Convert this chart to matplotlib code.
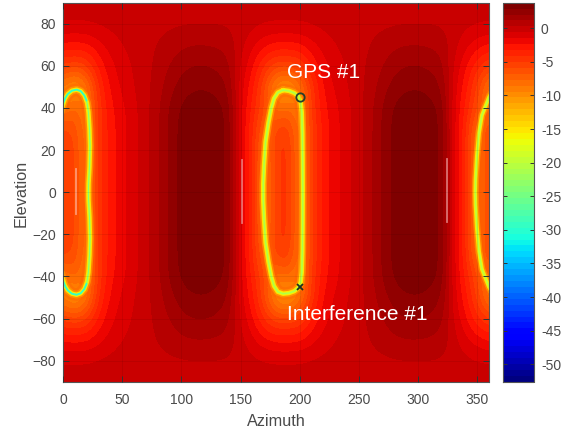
import numpy as np
import matplotlib
matplotlib.use('Agg')
import matplotlib.pyplot as plt
from matplotlib.colors import Normalize

plt.rcParams['font.family'] = ['Liberation Sans', 'DejaVu Sans']

# ---------------- data ----------------
azimuth = list(range(0, 361, 10))          # grid columns (deg)
elev_upper = [90, 80, 70, 60, 50, 40, 30, 20, 10, 0]   # rows, mirrored below 0

gain_el90 = [-0.2] * 37
gain_el80 = [-0.5, -0.5, -0.5, -0.4, -0.3, -0.2, -0.1, 0.0, 0.05, 0.1, 0.15, 0.2, 0.2, 0.2, 0.15, -0.1, -0.3, -0.45,
             -0.5, -0.5, -0.5, -0.4, -0.3, -0.2, -0.1, 0.0, 0.05, 0.1, 0.15, 0.2, 0.2, 0.2, 0.15, -0.1, -0.3, -0.45, -0.5]
gain_el70 = [-2.5, -2.6, -2.5, -1.8, -1.1, -0.6, -0.3, 0.0, 0.3, 0.65, 1.0, 1.15, 1.15, 1.05, 0.8, -0.3, -1.3, -2.2,
             -2.6, -2.6, -2.5, -1.8, -1.1, -0.6, -0.3, 0.0, 0.3, 0.65, 1.0, 1.15, 1.15, 1.05, 0.8, -0.3, -1.3, -2.0, -2.5]
gain_el60 = [-5.0, -5.5, -5.0, -3.0, -1.8, -1.0, -0.5, 0.0, 0.55, 1.2, 1.8, 2.1, 2.1, 1.9, 1.4, -0.8, -2.3, -4.3,
             -5.5, -5.5, -5.0, -3.0, -1.8, -1.0, -0.5, 0.0, 0.55, 1.2, 1.8, 2.1, 2.1, 1.9, 1.4, -0.8, -2.3, -4.0, -5.0]
gain_el50 = [-9.0, -11.0, -8.5, -4.0, -2.2, -1.3, -0.6, 0.0, 0.75, 1.7, 2.5, 2.8, 2.85, 2.6, 2.0, -1.2, -3.0, -6.0,
             -10.0, -11.0, -8.5, -4.5, -2.2, -1.3, -0.6, 0.0, 0.75, 1.7, 2.5, 2.8, 2.85, 2.6, 2.0, -1.2, -3.0, -5.5, -9.0]
gain_el40 = [-9.0, -7.0, -9.0, -4.5, -2.6, -1.7, -0.85, 0.0, 0.95, 2.2, 3.15, 3.5, 3.55, 3.3, 2.65, -1.5, -3.5, -6.0,
             -8.5, -7.5, -9.0, -4.5, -2.6, -1.7, -0.85, 0.0, 0.95, 2.2, 3.15, 3.5, 3.55, 3.3, 2.65, -1.5, -3.5, -6.0, -9.0]
gain_el30 = [-5.5, -6.0, -9.0, -4.5, -2.8, -1.8, -0.9, 0.0, 1.0, 2.3, 3.3, 3.7, 3.75, 3.5, 2.8, -1.5, -4.0, -7.5,
             -5.5, -5.0, -9.0, -5.0, -2.8, -1.8, -0.9, 0.0, 1.0, 2.3, 3.3, 3.7, 3.75, 3.5, 2.8, -1.5, -4.0, -8.5, -5.5]
gain_el20 = [-5.0, -5.5, -9.0, -4.5, -2.8, -1.8, -0.9, 0.0, 1.0, 2.3, 3.3, 3.7, 3.75, 3.5, 2.8, -1.5, -4.0, -8.5,
             -5.0, -4.5, -9.0, -5.0, -2.8, -1.8, -0.9, 0.0, 1.0, 2.3, 3.3, 3.7, 3.75, 3.5, 2.8, -1.5, -4.0, -9.0, -5.0]
gain_el10 = [-5.0, -5.5, -9.0, -4.5, -2.8, -1.8, -0.9, 0.0, 1.0, 2.3, 3.3, 3.7, 3.75, 3.5, 2.8, -1.5, -4.0, -9.0,
             -5.0, -4.5, -9.0, -5.0, -2.8, -1.8, -0.9, 0.0, 1.0, 2.3, 3.3, 3.7, 3.75, 3.5, 2.8, -1.5, -4.0, -9.0, -5.0]
gain_el0 = [-5.0, -5.5, -9.0, -4.5, -2.8, -1.8, -0.9, 0.0, 1.0, 2.3, 3.3, 3.7, 3.75, 3.5, 2.8, -1.5, -4.0, -9.0,
            -5.0, -4.5, -9.0, -5.0, -2.8, -1.8, -0.9, 0.0, 1.0, 2.3, 3.3, 3.7, 3.75, 3.5, 2.8, -1.5, -4.0, -9.0, -5.0]

# null rings (azimuth, elevation)
ring2_az = [186, 191, 195.5, 198.8, 200.8, 201.8, 202.3, 202.5, 202.6, 202.5, 202.3, 201.8, 200.8, 198.8, 195.5, 191,
            186, 181.5, 178.3, 176, 173.6, 171.2, 169.9, 169.2, 169.2, 169.9, 171.2, 173.6, 176, 178.3, 181.5, 186]
ring2_el = [48.5, 48.1, 47.1, 45.6, 43, 38, 28, 15, 0, -15, -28, -38, -43, -45.4, -47, -47.9,
            -48.2, -47.3, -44.5, -40, -33, -24, -13, -4, 4, 13, 24, 33, 40, 44.5, 47.3, 48.5]
ring1_az = [-2, 0, 1.5, 4, 7.5, 11.5, 15, 18, 20.3, 21.5, 22.4, 22.8, 22.4, 21.6, 21.5, 21.6, 22.4, 22.8, 22.4, 21.5,
            20.3, 18, 15, 11.5, 7.5, 4, 1.5, 0, -2]
ring1_el = [38, 41.4, 44.2, 46.6, 48.2, 48.7, 48.0, 46.0, 42.5, 38, 30, 22, 12, 4, 0, -4, -12, -22, -30, -38,
            -42.5, -46.0, -48.0, -48.7, -48.2, -46.6, -44.2, -41.4, -38]
ring1_deep_top_az = [0.5, 2, 4, 7.5, 11.5, 15, 18, 20]
ring1_deep_top_el = [42.8, 44.8, 46.6, 48.2, 48.7, 48.0, 46.0, 43.5]
ring3_az = [364, 362, 360, 357.5, 354, 351.5, 349.8, 348.7, 348.5, 348.7, 349.8, 351.5, 354, 357.5, 360, 362, 364]
ring3_el = [48, 47, 45, 41.5, 36.5, 28, 17, 6, 0, -6, -17, -28, -36.5, -41.5, -45, -47, -48]

# faint vertical artefact strokes in the picture
artefact_az = [11, 151, 324.6]
artefact_el_lo = [-10.5, -14.5, -14]
artefact_el_hi = [11, 15.5, 16]

gps_az, gps_el = [200], [45]
intf_az, intf_el = [200], [-45]

xticks = [0, 50, 100, 150, 200, 250, 300, 350]
yticks = [-80, -60, -40, -20, 0, 20, 40, 60, 80]
cbar_ticks = [0, -5, -10, -15, -20, -25, -30, -35, -40, -45, -50]
vmin, vmax = -52.6, 3.8

# ---------------- figure ----------------
upper = np.array([gain_el90, gain_el80, gain_el70, gain_el60, gain_el50,
                  gain_el40, gain_el30, gain_el20, gain_el10, gain_el0])
grid = np.vstack([upper, upper[-2::-1]])   # el 90 ... 0 ... -90

cmap = plt.get_cmap('jet', 64)
norm = Normalize(vmin=vmin, vmax=vmax)
tick_col = '#4a4a4a'

fig = plt.figure(figsize=(5.65, 4.33), dpi=100)
ax = fig.add_axes([63 / 565, 51.3 / 433, 426 / 565, 379 / 433])

im = ax.imshow(grid, cmap=cmap, norm=norm, origin='upper', aspect='auto',
               extent=[azimuth[0] - 5, azimuth[-1] + 5, -95, 95],
               interpolation='bicubic', interpolation_stage='data', zorder=0)

def draw_ring(az, el, core_v, scale=1.0):
    layers = [(9.0, -7.0, 0.35), (5.5, -10.5, 0.75), (3.2, -15.0, 1.0), (1.7, -18.5, 1.0), (0.7, core_v, 1.0)]
    for lw, v, a in layers:
        ax.plot(az, el, color=cmap(norm(v)), lw=lw * scale, alpha=a,
                solid_capstyle='round', solid_joinstyle='round', zorder=2)

draw_ring(ring2_az, ring2_el, -21.5)
draw_ring(ring1_az, ring1_el, -24.0)
draw_ring(ring3_az, ring3_el, -20.0, scale=0.9)
for sgn in (1, -1):
    ax.plot(ring1_deep_top_az, [sgn * e for e in ring1_deep_top_el], color=cmap(norm(-29)),
            lw=1.3, solid_capstyle='round', zorder=2.1)

for a, lo, hi in zip(artefact_az, artefact_el_lo, artefact_el_hi):
    ax.plot([a, a], [lo, hi], color=(1, 0.82, 0.82), alpha=0.55, lw=1.3, zorder=2.2)

ax.plot(gps_az, gps_el, 'o', ms=6, mfc='none', mec='#25402a', mew=1.3, zorder=3)
ax.plot(intf_az, intf_el, 'x', ms=4.5, mec='#1e2e22', mew=1.3, zorder=3)
ax.text(189.3, 54.2, 'GPS #1', color='white', fontsize=15, ha='left', va='baseline', zorder=4)
ax.text(189.6, -60.9, 'Interference #1', color='white', fontsize=15, ha='left', va='baseline', zorder=4)

ax.set_xlim(0, 360)
ax.set_ylim(-90, 90)
ax.set_xticks(xticks)
ax.set_yticks(yticks)
ax.grid(True, color='black', alpha=0.1, lw=0.5)
ax.set_axisbelow(False)
ax.tick_params(direction='in', length=4, width=0.7, color='#333333', top=True, right=True,
               labelsize=10, labelcolor=tick_col)
ax.tick_params(axis='x', pad=8)
ax.tick_params(axis='y', pad=5)
for s in ax.spines.values():
    s.set_color('#555555')
    s.set_linewidth(0.8)
    s.set_linestyle((0, (1, 1)))

fig.text(276 / 565, 1 - 421 / 433, 'Azimuth', fontsize=11.7, color=tick_col, ha='center', va='center')
fig.text(21 / 565, 1 - 193 / 433, 'Elevation', fontsize=11.7, color=tick_col, ha='center', va='center',
         rotation=90)

cax = fig.add_axes([503 / 565, 51.3 / 433, 31 / 565, 379 / 433])
cb = fig.colorbar(im, cax=cax, ticks=cbar_ticks)
cb.ax.set_yticklabels([str(t) for t in cbar_ticks])
cb.ax.tick_params(direction='in', length=3, width=0.7, color='#333333', left=True, right=True,
                  labelsize=10, labelcolor=tick_col, pad=5)
cb.outline.set_edgecolor('#555555')
cb.outline.set_linewidth(0.8)
cb.outline.set_linestyle((0, (1, 1)))

fig.savefig('out.png', dpi=100)
